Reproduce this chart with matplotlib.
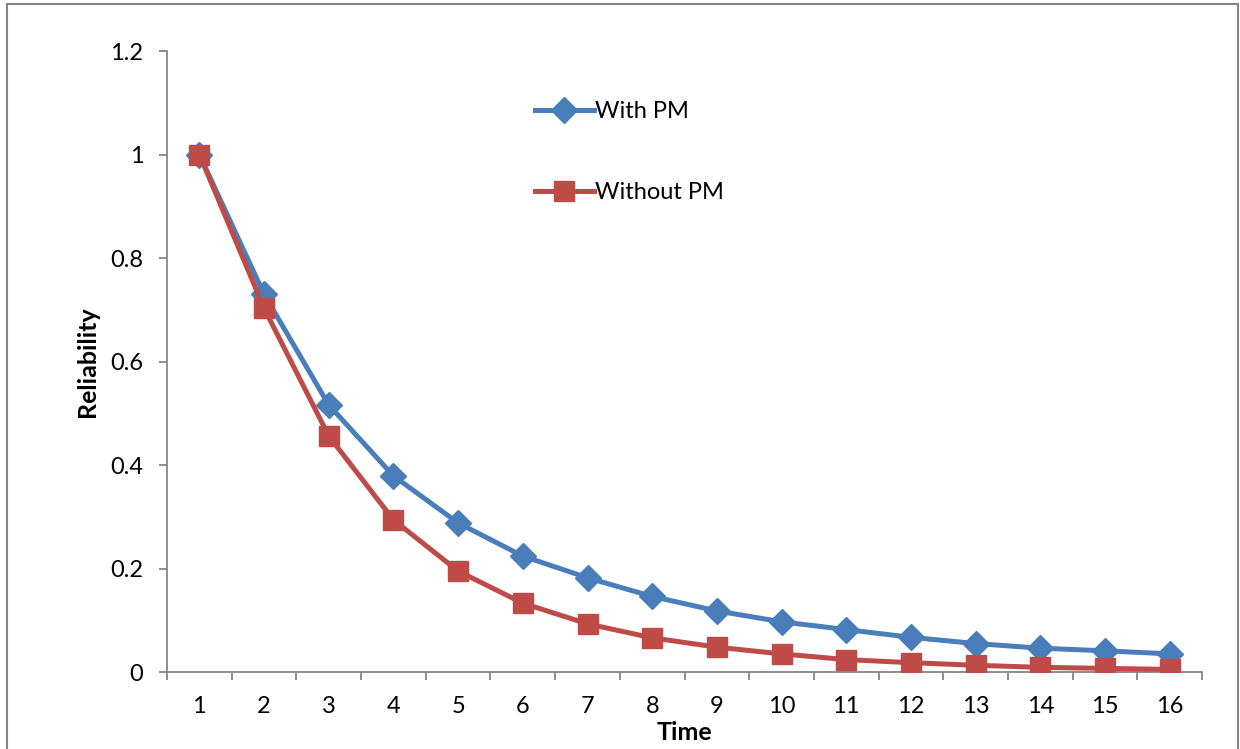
import numpy as np
import matplotlib.pyplot as plt
from matplotlib.patches import Rectangle

plt.rcParams['font.family'] = ['Lato', 'DejaVu Sans']

time = list(range(1, 17))
with_pm = [1.0, 0.730, 0.516, 0.379, 0.288, 0.224, 0.182, 0.146,
           0.118, 0.097, 0.082, 0.067, 0.055, 0.046, 0.041, 0.035]
without_pm = [1.0, 0.703, 0.456, 0.294, 0.195, 0.133, 0.093, 0.066,
              0.048, 0.035, 0.024, 0.018, 0.013, 0.009, 0.007, 0.005]
yticks = [0, 0.2, 0.4, 0.6, 0.8, 1, 1.2]
ytick_labels = ['0', '0.2', '0.4', '0.6', '0.8', '1', '1.2']

blue = '#4A7EBB'
red = '#BE4B48'
grey = '#868686'

fig = plt.figure(figsize=(12.4, 7.49), dpi=100)
ax = fig.add_axes([0.1347, 0.1028, 0.8347, 0.8291])

ax.plot(time, with_pm, color=blue, lw=3.6, marker='D', markersize=13,
        label='With PM', zorder=3)
ax.plot(time, without_pm, color=red, lw=3.6, marker='s', markersize=14,
        label='Without PM', zorder=4)

ax.set_xlim(0.5, 16.5)
ax.set_ylim(0, 1.2)
ax.set_xticks(time)
ax.set_xticklabels([str(t) for t in time])
ax.set_xticks(np.arange(0.5, 17, 1), minor=True)
ax.set_yticks(yticks)
ax.set_yticklabels(ytick_labels)

ax.tick_params(axis='x', which='major', length=0, labelsize=17, pad=17)
ax.tick_params(axis='x', which='minor', length=6, width=1.3, color=grey, direction='out')
ax.tick_params(axis='y', length=6, width=1.3, color=grey, direction='out',
               labelsize=17, pad=11)

for s in ['top', 'right']:
    ax.spines[s].set_visible(False)
for s in ['left', 'bottom']:
    ax.spines[s].set_color(grey)
    ax.spines[s].set_linewidth(1.3)

ax.set_xlabel('Time', fontsize=18, fontweight='bold', labelpad=3)
ax.set_ylabel('Reliability', fontsize=18, fontweight='bold', labelpad=8)

ax.legend(loc='upper left', bbox_to_anchor=(0.346, 0.935), frameon=False,
          fontsize=17, handlelength=2.5, labelspacing=2.55, handletextpad=0.05,
          borderaxespad=0)

fig.patches.append(Rectangle((7 / 1240, -0.01), (1238 - 7) / 1240, 1.01 - 4 / 749,
                             transform=fig.transFigure, fill=False,
                             edgecolor=grey, lw=1.5))

fig.savefig('out.png', dpi=100)
